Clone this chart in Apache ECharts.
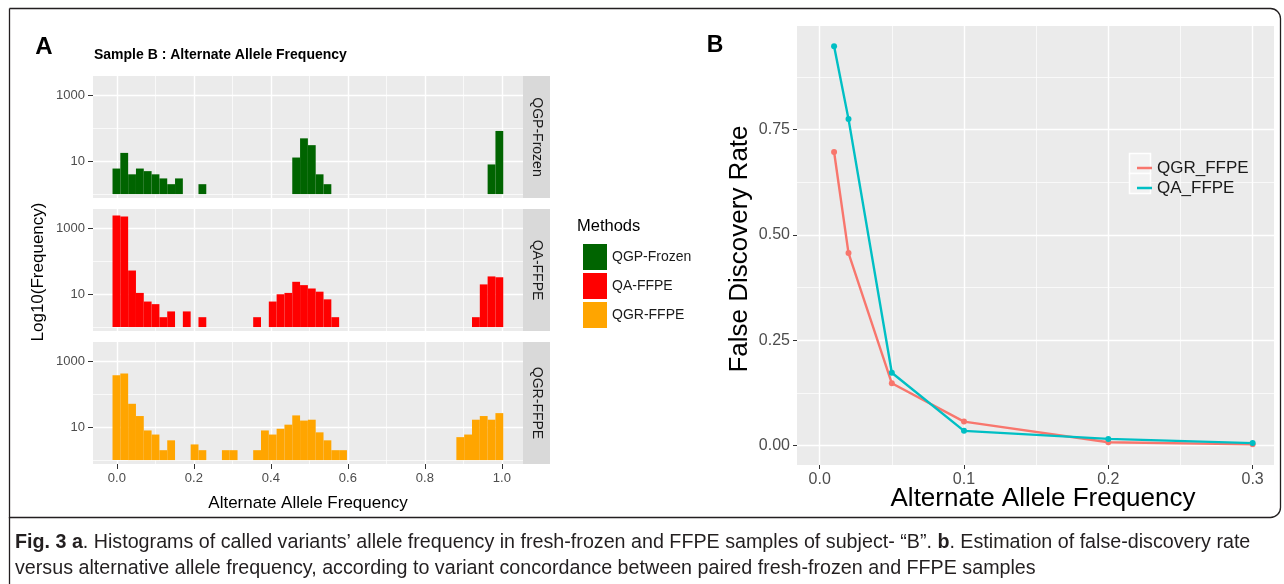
<!DOCTYPE html>
<html>
<head>
<meta charset="utf-8">
<script src="https://cdn.jsdelivr.net/npm/echarts@6/dist/echarts.min.js"></script>
<style>
html, body { margin: 0; padding: 0; background: #fff; }
#main { width: 1284px; height: 584px; }
</style>
</head>
<body>
<div id="main"></div>
<script>
// panel A : histogram bins (50 bins over the allele frequency range)
var methods = ['QGP-Frozen', 'QA-FFPE', 'QGR-FFPE'];
var methodColors = ['#006400', '#FF0000', '#FFA500'];
var binStart = -0.0113;
var binWidth = 0.0203;
var qgpFrozen = [6, 18, 4, 6, 5, 4, 3, 2, 3, 0,
                 0, 2, 0, 0, 0, 0, 0, 0, 0, 0,
                 0, 0, 0, 13, 50, 31, 4, 2, 0, 0,
                 0, 0, 0, 0, 0, 0, 0, 0, 0, 0,
                 0, 0, 0, 0, 0, 0, 0, 0, 8, 84];
var qaFfpe = [2520, 2350, 53, 11, 6, 5, 2, 3, 0, 3,
              0, 2, 0, 0, 0, 0, 0, 0, 2, 0,
              6, 10, 11, 24, 19, 15, 12, 7, 2, 0,
              0, 0, 0, 0, 0, 0, 0, 0, 0, 0,
              0, 0, 0, 0, 0, 0, 2, 20, 35, 33];
var qgrFfpe = [385, 433, 52, 22, 8, 6, 2, 4, 0, 0,
               3, 2, 0, 0, 2, 2, 0, 0, 2, 8,
               6, 9, 12, 23, 16, 17, 7, 4, 2, 2,
               0, 0, 0, 0, 0, 0, 0, 0, 0, 0,
               0, 0, 0, 0, 5, 6, 17, 22, 17, 27];
var histTicksX = [0, 0.2, 0.4, 0.6, 0.8, 1.0];
var histMinorX = [0.1, 0.3, 0.5, 0.7, 0.9];
var histTicksY = [1, 3];      // log10 of 10 and 1000
var histMinorY = [0, 2];

// panel B : false discovery rate
var fdrNames = ['QGR_FFPE', 'QA_FFPE'];
var fdrColors = ['#F8766D', '#00BFC4'];
var fdrX = [0.01, 0.02, 0.05, 0.1, 0.2, 0.3];
var qgrFdr = [0.697, 0.457, 0.148, 0.057, 0.008, 0.003];
var qaFdr = [0.948, 0.775, 0.173, 0.035, 0.016, 0.006];
var fdrTicksX = [0, 0.1, 0.2, 0.3];
var fdrMinorX = [0.05, 0.15, 0.25];
var fdrTicksY = [0, 0.25, 0.5, 0.75];
var fdrMinorY = [0.125, 0.375, 0.625, 0.875];

var FONT = '"Liberation Sans", Arial, sans-serif';
var chartDom = document.getElementById('main');
var myChart = echarts.init(chartDom);

function binData(counts) {
    var out = [];
    counts.forEach(function (c, i) {
        if (c > 0) out.push([binStart + i * binWidth, binStart + (i + 1) * binWidth, Math.log10(c)]);
    });
    return out;
}

function renderBin(params, api) {
    var lo = api.coord([api.value(0), 0]);
    var hi = api.coord([api.value(1), api.value(2)]);
    return {
        type: 'rect',
        shape: { x: lo[0], y: hi[1], width: hi[0] - lo[0], height: lo[1] - hi[1] },
        style: { fill: api.visual('color') }
    };
}

// main axis (labels, ticks, major grid) + a hidden one for the minor grid
function axisPair(dim, grid, min, max, major, minor, fmt, size, tickLen) {
    var main = {
        type: 'value', gridIndex: grid, min: min, max: max,
        axisLine: { show: false, onZero: false },
        axisTick: { show: !!fmt, customValues: major, length: tickLen, lineStyle: { color: '#333', width: 1 } },
        axisLabel: { show: !!fmt, customValues: major, formatter: fmt, color: '#4D4D4D', fontSize: size, fontFamily: FONT, margin: tickLen + 3 },
        splitLine: { show: true, lineStyle: { color: '#fff', width: 1.4 } }
    };
    var sub = {
        type: 'value', gridIndex: grid, min: min, max: max,
        position: dim === 'x' ? 'top' : 'right',
        axisLine: { show: false, onZero: false },
        axisTick: { show: false, customValues: minor },
        axisLabel: { show: false, customValues: minor },
        splitLine: { show: true, lineStyle: { color: '#fff', width: 0.7 } }
    };
    return [main, sub];
}

var facetTops = [76, 209, 342];
var facetCounts = [qgpFrozen, qaFfpe, qgrFfpe];
var grids = [], xAxes = [], yAxes = [], series = [], graphics = [];
var logFmt = function (v) { return String(Math.round(Math.pow(10, v))); };

facetTops.forEach(function (top, k) {
    grids.push({ left: 93, top: top, width: 430, height: 122, show: true, backgroundColor: '#EBEBEB', borderWidth: 0 });
    var last = k === facetTops.length - 1;
    xAxes = xAxes.concat(axisPair('x', k, -0.062, 1.055, histTicksX, histMinorX,
        last ? function (v) { return v.toFixed(1); } : null, 13, 5));
    yAxes = yAxes.concat(axisPair('y', k, -0.12, 3.6, histTicksY, histMinorY, logFmt, 13, 5));
    series.push({
        type: 'custom', name: methods[k],
        xAxisIndex: 2 * k, yAxisIndex: 2 * k,
        itemStyle: { color: methodColors[k] },
        encode: { x: [0, 1], y: 2 },
        data: binData(facetCounts[k]),
        renderItem: renderBin
    });
    // facet strip
    graphics.push({ type: 'rect', shape: { x: 523, y: top, width: 27, height: 122 }, style: { fill: '#D9D9D9' } });
    graphics.push({
        type: 'text', x: 537, y: top + 61, rotation: -Math.PI / 2,
        style: { text: methods[k], fill: '#1A1A1A', fontSize: 14, fontFamily: FONT, align: 'center', verticalAlign: 'middle' }
    });
});

// panel B
grids.push({ left: 797, top: 26, right: 10, bottom: 119, show: true, backgroundColor: '#EBEBEB', borderWidth: 0 });
xAxes = xAxes.concat(axisPair('x', 3, -0.0157, 0.3148, fdrTicksX, fdrMinorX, function (v) { return v.toFixed(1); }, 16, 4));
yAxes = yAxes.concat(axisPair('y', 3, -0.046, 0.996, fdrTicksY, fdrMinorY, function (v) { return v.toFixed(2); }, 16, 4));
[qgrFdr, qaFdr].forEach(function (vals, k) {
    series.push({
        type: 'line', name: fdrNames[k], xAxisIndex: 6, yAxisIndex: 6,
        data: fdrX.map(function (x, i) { return [x, vals[i]]; }),
        symbol: 'circle', symbolSize: 6,
        itemStyle: { color: fdrColors[k] },
        lineStyle: { color: fdrColors[k], width: 2.4 }
    });
});

// texts
function txt(t, x, y, size, opts) {
    opts = opts || {};
    return {
        type: 'text', x: x, y: y, rotation: opts.rotation || 0, z: 10,
        style: {
            text: t, fill: opts.color || '#000', fontSize: size, fontFamily: opts.family || FONT,
            fontWeight: opts.bold ? 'bold' : 'normal',
            align: opts.align || 'center', verticalAlign: 'middle', rich: opts.rich
        }
    };
}
graphics.push(txt('A', 44, 47, 24, { bold: true }));
graphics.push(txt('B', 715, 46, 23, { bold: true }));
graphics.push(txt('Sample B : Alternate Allele Frequency', 94, 55, 14, { bold: true, align: 'left' }));
graphics.push(txt('Log10(Frequency)', 38, 272, 17, { rotation: Math.PI / 2 }));
graphics.push(txt('Alternate Allele Frequency', 308, 503, 17));
graphics.push(txt('Methods', 577, 226, 16.5, { align: 'left' }));
graphics.push(txt('False Discovery Rate', 740, 249, 26, { rotation: Math.PI / 2 }));
graphics.push(txt('Alternate Allele Frequency', 1043, 499, 26));
// legend B key boxes
[0, 1].forEach(function (i) {
    graphics.push({ type: 'rect', z: 3, shape: { x: 1129.5, y: 153.5 + i * 20, width: 21, height: 20 }, style: { fill: '#F2F2F2', stroke: '#fff', lineWidth: 1.5 } });
});
// caption
var CAP = '"Liberation Sans", Arial, sans-serif';
var capRich = { b: { fontWeight: 'bold', fontSize: 19.7, fontFamily: CAP, fill: '#231F20' } };
graphics.push(txt('{b|Fig. 3 a}. Histograms of called variants\u2019 allele frequency in fresh-frozen and FFPE samples of subject- \u201cB\u201d. {b|b}. Estimation of false-discovery rate',
    15, 543, 19.7, { align: 'left', family: CAP, color: '#231F20', rich: capRich }));
graphics.push(txt('versus alternative allele frequency, according to variant concordance between paired fresh-frozen and FFPE samples',
    15, 569, 19.7, { align: 'left', family: CAP, color: '#231F20' }));
// frame
graphics.push({ type: 'rect', shape: { x: 9.5, y: 8.5, width: 1271, height: 509, r: [0, 10, 10, 0] }, style: { fill: null, stroke: '#231F20', lineWidth: 1.3 } });
graphics.push({ type: 'line', shape: { x1: 9.5, y1: 517, x2: 9.5, y2: 584 }, style: { stroke: '#231F20', lineWidth: 1.3 } });

var option = {
    animation: false,
    textStyle: { fontFamily: FONT },
    grid: grids,
    xAxis: xAxes,
    yAxis: yAxes,
    legend: [{
        data: methods, orient: 'vertical', left: 578, top: 239, icon: 'rect',
        itemWidth: 24, itemHeight: 26, itemGap: 3, selectedMode: false,
        textStyle: { fontSize: 14, color: '#1A1A1A', fontFamily: FONT }
    }, {
        data: fdrNames, orient: 'vertical', left: 1132, top: 153, icon: 'rect',
        itemWidth: 15, itemHeight: 2.5, itemGap: 0, selectedMode: false, z: 5,
        textStyle: { fontSize: 17, lineHeight: 20, color: '#1A1A1A', fontFamily: FONT }
    }],
    series: series,
    graphic: { elements: graphics }
};

option && myChart.setOption(option);
</script>
</body>
</html>
